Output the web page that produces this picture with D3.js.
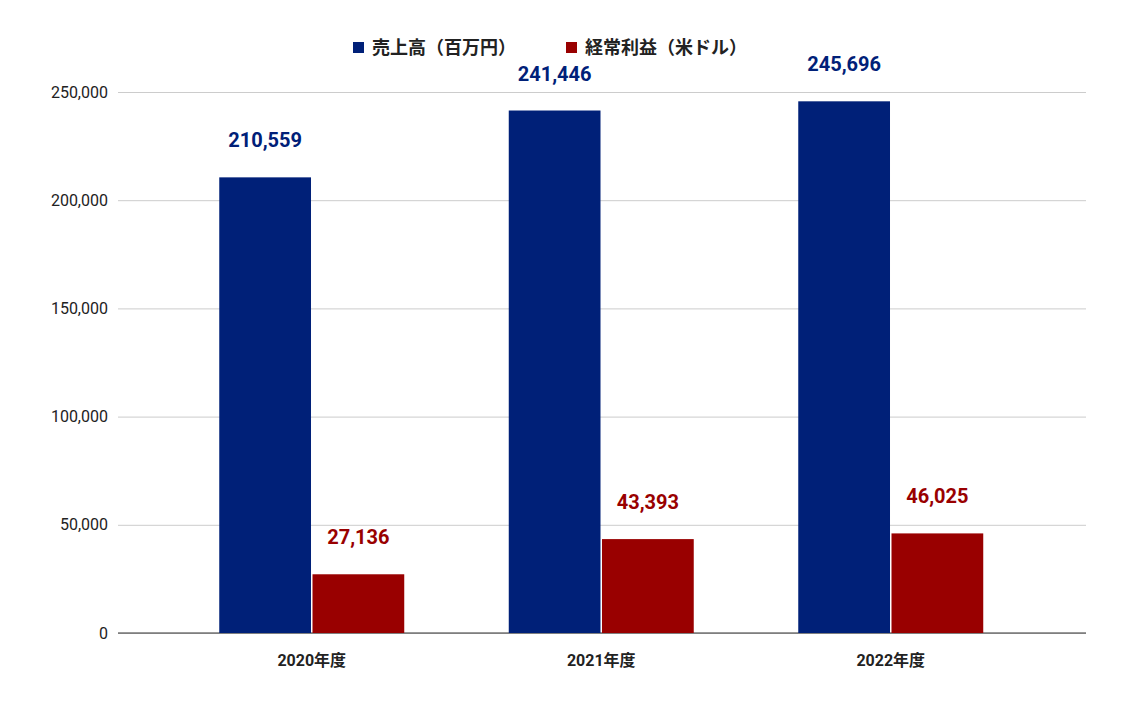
<!DOCTYPE html><html><head><meta charset="utf-8"><script src="https://cdn.jsdelivr.net/npm/d3@7"></script>
<style>body{margin:0;background:#fff;font-family:Roboto,"Noto Sans CJK JP",sans-serif}</style></head><body><svg width="1122" height="703"></svg><script>
const categories=["2020年度","2021年度","2022年度"];
const seriesNames=["売上高（百万円）","経常利益（米ドル）"];
const sales=[210559,241446,245696];
const profit=[27136,43393,46025];
const ticks=[0,50000,100000,150000,200000,250000];
const colors=["#002078","#990000"];
const svg=d3.select("svg");
const y=d3.scaleLinear().domain([0,250000]).range([633,92]);
const x=d3.scaleBand().domain(categories).range([167,1035.5]).paddingInner(0.361).paddingOuter(0.1805);
const xs=d3.scaleBand().domain([0,1]).range([0,x.bandwidth()]).paddingInner(0.016);
const ga=svg.append("g").attr("transform","translate(118,0)").call(d3.axisLeft(y).tickValues(ticks).tickSize(-968).tickFormat(d3.format(",")));
ga.select(".domain").remove();
ga.selectAll(".tick line").attr("stroke","#ccc");
ga.selectAll(".tick text").attr("x",-10).attr("font-size",16).attr("fill","#222").attr("font-family","Roboto");
svg.append("line").attr("x1",118).attr("x2",1086).attr("y1",y(0)).attr("y2",y(0)).attr("stroke","#333");
[sales,profit].forEach((s,i)=>{
 const g=svg.append("g");
 g.selectAll("rect").data(s).join("rect").attr("x",(d,j)=>x(categories[j])+xs(i)).attr("width",xs.bandwidth()).attr("y",d=>y(d)).attr("height",d=>y(0)-y(d)).attr("fill",colors[i]);
 g.selectAll("text").data(s).join("text").attr("x",(d,j)=>x(categories[j])+xs(i)+xs.bandwidth()/2).attr("y",d=>y(d)-30).attr("text-anchor","middle").attr("font-size",20).attr("font-weight","bold").attr("fill",colors[i]).text(d3.format(","));
});
svg.selectAll(".xl").data(categories).join("text").attr("x",d=>x(d)+x.bandwidth()/2).attr("y",666).attr("text-anchor","middle").attr("font-size",16).attr("font-weight","bold").attr("fill","#222").text(d=>d);
const lg=svg.append("g");
const lx=[353,566];
seriesNames.forEach((n,i)=>{
 lg.append("rect").attr("x",lx[i]).attr("y",42).attr("width",11).attr("height",11).attr("fill",colors[i]);
 lg.append("text").attr("x",lx[i]+19).attr("y",54).attr("font-size",18).attr("font-weight","bold").attr("fill","#222").text(n);
});
</script></body></html>
